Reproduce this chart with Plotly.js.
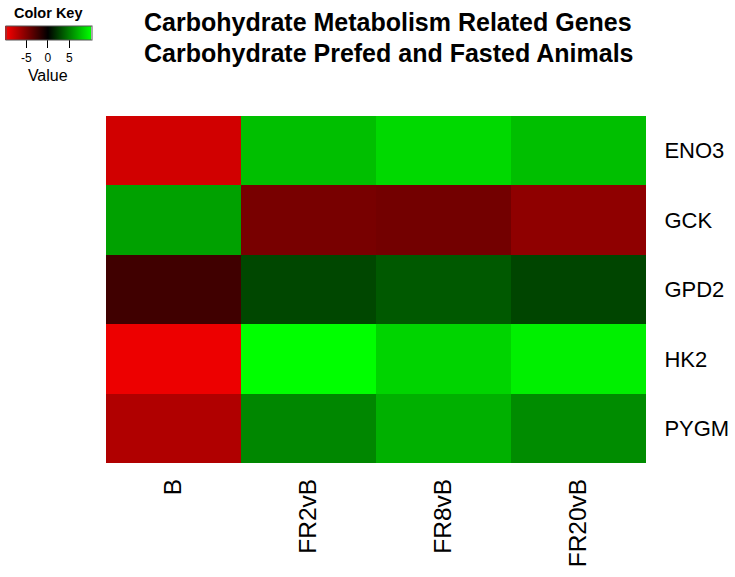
<!DOCTYPE html>
<html><head><meta charset="utf-8">
<script src="https://cdn.plot.ly/plotly-3.0.1.min.js"></script>
<style>html,body{margin:0;padding:0;background:#fff}#chart{width:735px;height:577px}</style>
</head><body><div id="chart"></div>
<script>
const samples = ["B", "FR2vB", "FR8vB", "FR20vB"];
const genes = ["ENO3", "GCK", "GPD2", "HK2", "PYGM"];
const ENO3 = [-8.2, 7.5, 8.5, 7.5];
const GCK  = [6.3, -4.7, -4.5, -5.6];
const GPD2 = [-2.5, 2.8, 3.5, 2.7];
const HK2  = [-9.3, 10.0, 8.3, 9.4];
const PYGM = [-6.9, 5.3, 6.9, 5.5];
const keyTicks = [-5, 0, 5];
const titleLines = ["Carbohydrate Metabolism Related Genes", "Carbohydrate Prefed and Fasted Animals"];

const z = [ENO3, GCK, GPD2, HK2, PYGM];
const font = "Liberation Sans, Arial, sans-serif";

const trace = {
  type: "heatmap", x: samples, y: genes, z: z,
  zmin: -10, zmax: 10,
  colorscale: [[0, "#ff0000"], [0.5, "#000000"], [1, "#00ff00"]],
  hoverinfo: "x+y+z",
  colorbar: {
    orientation: "h",
    xref: "container", yref: "container",
    x: 65/735, xanchor: "center",
    y: 1 - 26/577, yanchor: "top",
    lenmode: "pixels", len: 86,
    thickness: 14,
    xpad: 0, ypad: 0,
    outlinewidth: 1, outlinecolor: "#555",
    tickmode: "array", tickvals: keyTicks, ticktext: keyTicks.map(String),
    ticks: "outside", ticklen: 8, tickcolor: "#000",
    tickfont: {family: font, size: 12, color: "#000"},
    title: {text: "Value", side: "bottom", font: {family: font, size: 16, color: "#000"}}
  }
};

const layout = {
  width: 735, height: 577,
  margin: {l: 106, r: 89, t: 116, b: 114},
  paper_bgcolor: "#fff", plot_bgcolor: "#fff",
  xaxis: {
    type: "category", showgrid: false, zeroline: false, showline: false,
    tickangle: -90, ticks: "outside", ticklen: 5, tickcolor: "rgba(0,0,0,0)",
    tickfont: {family: font, size: 24.5, color: "#000"}
  },
  yaxis: {
    type: "category", autorange: "reversed", side: "right",
    showgrid: false, zeroline: false, showline: false,
    ticks: "outside", ticklen: 13, tickcolor: "rgba(0,0,0,0)",
    tickfont: {family: font, size: 22, color: "#000"}
  },
  annotations: [
    {text: "<b>" + titleLines[0] + "</b>", xref: "paper", yref: "paper",
     x: (388 - 106)/540, y: (463 - 22)/347, xanchor: "center", yanchor: "middle",
     showarrow: false, font: {family: font, size: 25, color: "#000"}},
    {text: "<b>" + titleLines[1] + "</b>", xref: "paper", yref: "paper",
     x: (388 - 106)/540, y: (463 - 53)/347, xanchor: "center", yanchor: "middle",
     showarrow: false, font: {family: font, size: 25, color: "#000"}},
    {text: "<b>Color Key</b>", xref: "paper", yref: "paper",
     x: (48.5 - 106)/540, y: (463 - 13)/347,
     xanchor: "center", yanchor: "middle", showarrow: false,
     font: {family: font, size: 14.5, color: "#000"}}
  ]
};

Plotly.newPlot("chart", [trace], layout, {displayModeBar: false, staticPlot: true});
</script>
</body></html>
